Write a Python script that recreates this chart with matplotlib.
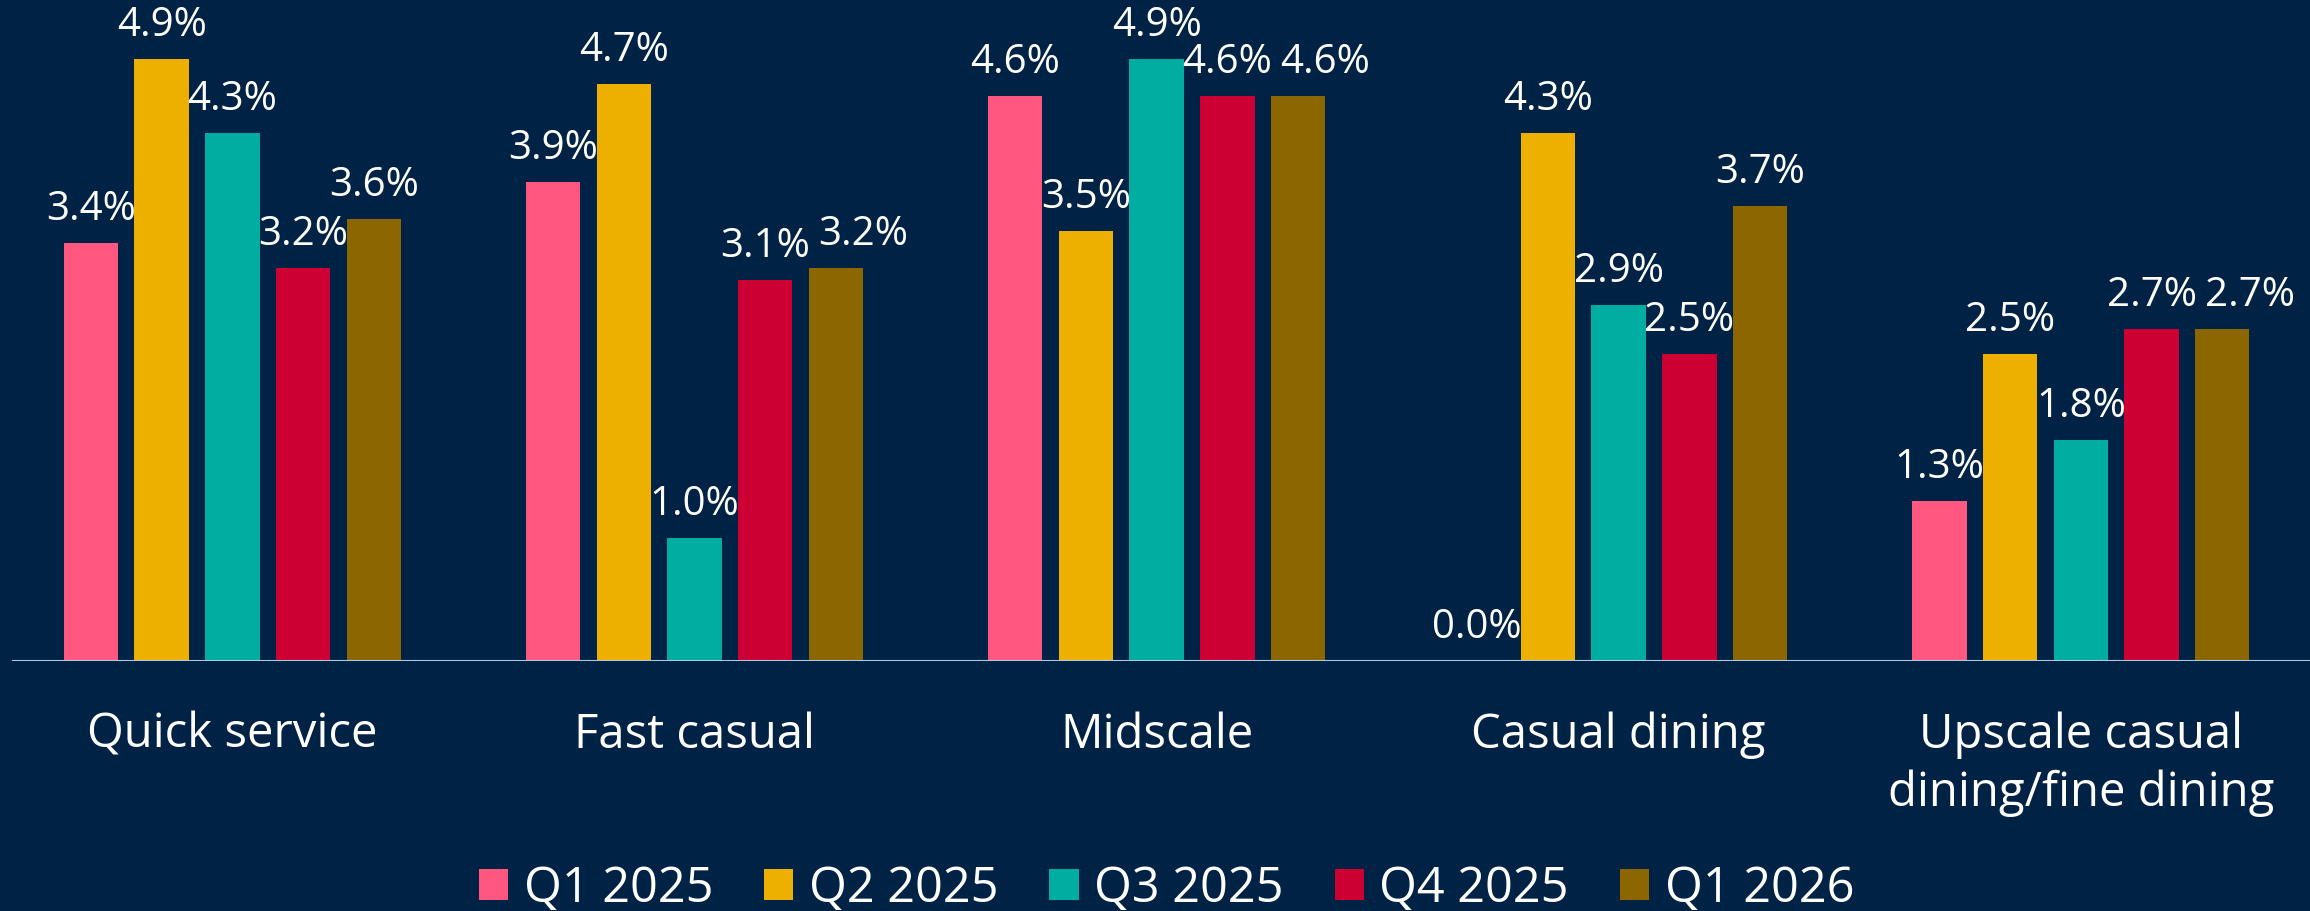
import numpy as np
import matplotlib.pyplot as plt

plt.rcParams['font.family'] = ['Open Sans', 'DejaVu Sans']

# Chart data
categories = ["Quick service", "Fast casual", "Midscale", "Casual dining",
              "Upscale casual\ndining/fine dining"]
periods = ["Q1 2025", "Q2 2025", "Q3 2025", "Q4 2025", "Q1 2026"]
q1_2025 = [3.4, 3.9, 4.6, 0.0, 1.3]
q2_2025 = [4.9, 4.7, 3.5, 4.3, 2.5]
q3_2025 = [4.3, 1.0, 4.9, 2.9, 1.8]
q4_2025 = [3.2, 3.1, 4.6, 2.5, 2.7]
q1_2026 = [3.6, 3.2, 4.6, 3.7, 2.7]

series = [q1_2025, q2_2025, q3_2025, q4_2025, q1_2026]
colors = ["#FF577F", "#EEB000", "#00ADA1", "#CC0033", "#8C6600"]
BG = "#002245"
DPI = 100

fig = plt.figure(figsize=(23.1, 9.11), dpi=DPI, facecolor=BG)
ax = fig.add_axes([0.005, 0.2744, 0.995, 0.7256])
ax.set_facecolor(BG)

x = np.arange(len(categories))
slot = 0.153
width = 0.118
labels = [[] for _ in categories]  # value labels per category, in series order
for i, (vals, col, name) in enumerate(zip(series, colors, periods)):
    pos = x + (i - 2) * slot
    ax.bar(pos, vals, width=width, color=col, label=name, zorder=2)
    for k, (xp, v) in enumerate(zip(pos, vals)):
        t = ax.annotate(f"{v:.1f}%", (xp, v), xytext=(0, 16.5), textcoords="offset points",
                        ha="center", va="baseline", color="white", fontsize=29)
        labels[k].append(t)

ax.set_xlim(-0.478, 4.496)
ax.set_ylim(0, 5.38)
ax.axhline(0, color="#A9CCE3", linewidth=1.5, zorder=3)
for s in ax.spines.values():
    s.set_visible(False)
ax.set_yticks([])
ax.set_xticks(x)
ax.set_xticklabels(categories, fontsize=34, color="white", linespacing=1.3)
ax.tick_params(axis="x", length=0, pad=36)

fig.legend(loc="lower center", bbox_to_anchor=(0.505, -0.051), ncol=5, frameon=False,
           fontsize=35, labelcolor="white", handlelength=0.6, handleheight=0.6,
           handletextpad=0.32, columnspacing=1.05)

# nudge value labels right when they collide with the previous one at the same height
fig.canvas.draw()
renderer = fig.canvas.get_renderer()
gap = 8  # px
for group in labels:
    placed = []
    for t in group:
        bb = t.get_window_extent(renderer)
        shift = 0
        for p in placed:
            if abs(bb.y0 - p.y0) < 30 and bb.x0 + shift < p.x1 + gap:
                shift = p.x1 + gap - bb.x0
        if shift > 0:
            ox, oy = t.xyann
            t.xyann = (ox + shift * 72 / DPI, oy)
            bb = t.get_window_extent(renderer)
        placed.append(bb)

fig.savefig("out.png", dpi=DPI, facecolor=BG)
